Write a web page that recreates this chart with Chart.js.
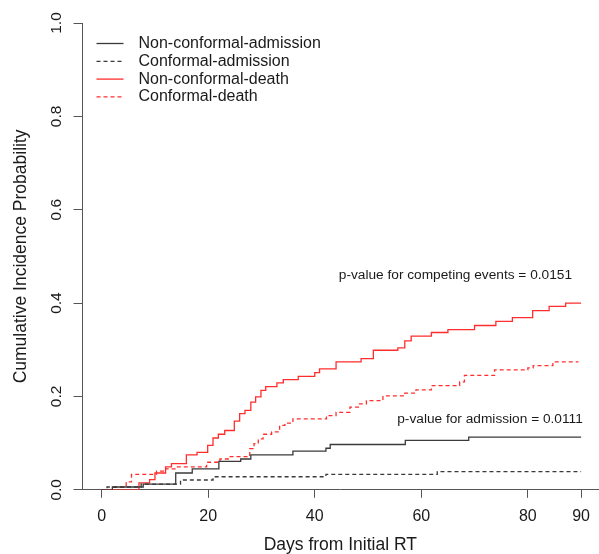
<!DOCTYPE html>
<html>
<head>
<meta charset="utf-8">
<script src="https://cdn.jsdelivr.net/npm/chart.js@4.4.1/dist/chart.umd.min.js"></script>
<style>
  html, body { margin: 0; padding: 0; background: #fff; }
</style>
</head>
<body>
<canvas id="chart" width="599" height="554"></canvas>
<script>
const seriesNames = ['Non-conformal-admission', 'Conformal-admission', 'Non-conformal-death', 'Conformal-death'];

// day of each step and the cumulative incidence from that day on
const nonConfAdmDays = [0, 2, 7.8, 13.9, 17, 22, 26.1, 28, 35.9, 42.1, 42.9, 57, 68.9, 90];
const nonConfAdmCif  = [0, 0.006, 0.012, 0.036, 0.045, 0.061, 0.066, 0.075, 0.083, 0.089, 0.097, 0.106, 0.113, 0.113];

const confAdmDays = [0, 1, 7.4, 14.8, 20.9, 42.1, 63, 90];
const confAdmCif  = [0, 0.006, 0.012, 0.021, 0.028, 0.033, 0.039, 0.039];

const nonConfDeathDays = [0, 7, 9, 10, 12, 13.1, 15.9, 17.9, 19.9, 20.9, 21.9, 23.1, 24.9, 25.9, 26.9, 28, 28.9, 29.9, 30.8, 32.9,
  34.1, 36.9, 40, 40.9, 44, 48.7, 51, 55.6, 56.9, 58.1, 61.9, 65, 70, 74, 77.1, 80.9, 84, 87.1, 90];
const nonConfDeathCif  = [0, 0.015, 0.022, 0.036, 0.049, 0.056, 0.075, 0.08, 0.095, 0.111, 0.119, 0.127, 0.147, 0.163, 0.17, 0.188, 0.199, 0.213, 0.221, 0.229,
  0.236, 0.243, 0.251, 0.259, 0.274, 0.281, 0.299, 0.304, 0.319, 0.329, 0.337, 0.343, 0.352, 0.361, 0.369, 0.384, 0.393, 0.4, 0.4];

const confDeathDays = [0, 2, 4.6, 5.6, 10.3, 12, 14, 19.7, 22.2, 24, 27.8, 28.6, 29.4, 30.3, 31.9, 33.4, 34.4, 35.9, 42.2, 44,
  46.6, 48.4, 49.7, 52.8, 56.9, 59, 61.9, 67.2, 68.1, 73.75, 80, 81, 84.7, 89.5];
const confDeathCif  = [0, 0.005, 0.017, 0.033, 0.04, 0.045, 0.049, 0.059, 0.066, 0.071, 0.088, 0.099, 0.109, 0.119, 0.124, 0.138, 0.143, 0.152, 0.159, 0.166,
  0.177, 0.184, 0.191, 0.201, 0.207, 0.214, 0.223, 0.231, 0.245, 0.257, 0.261, 0.266, 0.274, 0.274];

const xTicks = [0, 20, 40, 60, 80, 90];
const yTicks = [0, 0.2, 0.4, 0.6, 0.8, 1.0];

const pValueText = ['p-value for competing events = 0.0151', 'p-value for admission = 0.0111'];
const pValueDay  = [66.4, 72.9];
const pValueCif  = [0.459, 0.151];

const TEXT = '#1a1a1a';
const AXIS = '#555';
const BLACK = '#3a3a3a';
const RED = 'rgb(255,45,45)';
const FONT = '"Liberation Sans", Arial, sans-serif';

Chart.defaults.font.family = FONT;

const toPoints = (days, cif) => days.map((d, i) => ({ x: d, y: cif[i] }));

const makeSet = (label, days, cif, color, dash) => ({
  label: label,
  data: toPoints(days, cif),
  borderColor: color,
  borderWidth: 1.3,
  borderDash: dash,
  stepped: true,
  pointRadius: 0,
  fill: false,
});

// y tick labels (rotated, as R draws them), legend and p-values
const overlay = {
  id: 'overlay',
  afterDraw(chart) {
    const { ctx, chartArea, scales } = chart;
    const x = scales.x, y = scales.y;
    ctx.save();
    ctx.fillStyle = TEXT;
    ctx.textAlign = 'center';
    ctx.textBaseline = 'middle';
    ctx.font = '15.5px ' + FONT;
    y.ticks.forEach(t => {
      ctx.save();
      ctx.translate(chartArea.left - 26, y.getPixelForValue(t.value));
      ctx.rotate(-Math.PI / 2);
      ctx.fillText(t.value.toFixed(1), 0, 0);
      ctx.restore();
    });

    // legend in the top left corner of the plot
    ctx.font = '16px ' + FONT;
    ctx.textAlign = 'left';
    chart.data.datasets.forEach((ds, i) => {
      const ly = chartArea.top + 20.5 + i * 17.8;
      ctx.beginPath();
      ctx.strokeStyle = ds.borderColor;
      ctx.lineWidth = ds.borderWidth;
      ctx.setLineDash(ds.borderDash || []);
      ctx.moveTo(chartArea.left + 14, ly);
      ctx.lineTo(chartArea.left + 41, ly);
      ctx.stroke();
      ctx.fillText(ds.label, chartArea.left + 56, ly);
    });
    ctx.setLineDash([]);

    ctx.font = '13.7px ' + FONT;
    ctx.textAlign = 'center';
    pValueText.forEach((s, i) => {
      ctx.fillText(s, x.getPixelForValue(pValueDay[i]), y.getPixelForValue(pValueCif[i]));
    });
    ctx.restore();
  }
};

new Chart(document.getElementById('chart'), {
  type: 'line',
  data: {
    datasets: [
      makeSet(seriesNames[0], nonConfAdmDays, nonConfAdmCif, BLACK, []),
      makeSet(seriesNames[1], confAdmDays, confAdmCif, BLACK, [4, 3]),
      makeSet(seriesNames[2], nonConfDeathDays, nonConfDeathCif, RED, []),
      makeSet(seriesNames[3], confDeathDays, confDeathCif, RED, [4, 3]),
    ]
  },
  options: {
    responsive: false,
    animation: false,
    devicePixelRatio: 1,
    layout: { padding: { left: 8, top: 23, right: 0, bottom: -2 } },
    plugins: {
      legend: { display: false },
      tooltip: { enabled: false },
    },
    scales: {
      x: {
        type: 'linear',
        min: -3.6,
        max: 93.2,
        afterBuildTicks: axis => { axis.ticks = xTicks.map(v => ({ value: v })); },
        grid: { display: true, drawOnChartArea: false, drawTicks: true, tickLength: 8, color: AXIS },
        border: { display: true, color: AXIS, width: 1 },
        ticks: { color: TEXT, font: { size: 16 }, padding: 9, maxRotation: 0, autoSkip: false },
        title: { display: true, text: 'Days from Initial RT', color: TEXT, font: { size: 17.5 }, padding: { top: 0, bottom: 0 } },
      },
      y: {
        type: 'linear',
        min: 0,
        max: 1,
        afterBuildTicks: axis => { axis.ticks = yTicks.map(v => ({ value: v })); },
        grid: { display: true, drawOnChartArea: false, drawTicks: true, tickLength: 9, color: AXIS },
        border: { display: true, color: AXIS, width: 1 },
        ticks: { display: false },
        title: { display: true, text: 'Cumulative Incidence Probability', color: TEXT, font: { size: 17.5 }, padding: { top: 3, bottom: 41.5 } },
      },
    },
  },
  plugins: [overlay],
});
</script>
</body>
</html>
